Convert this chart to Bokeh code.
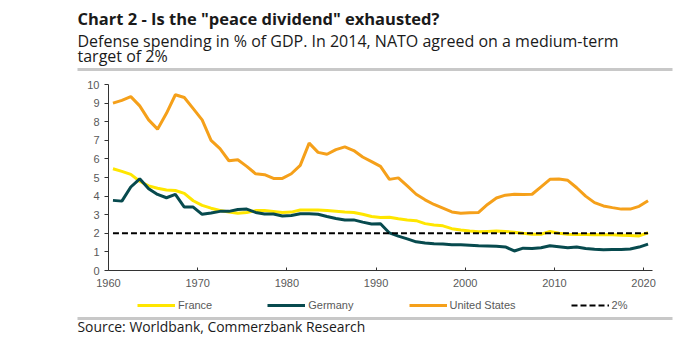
from bokeh.plotting import figure
from bokeh.models import Range1d, Legend, LegendItem, FixedTicker, Label, BoxAnnotation
from bokeh.embed import file_html
from bokeh.resources import INLINE

# ---------------- data ----------------
years = list(range(1960, 2021))

france = [5.47, 5.33, 5.17, 4.80, 4.55, 4.42, 4.33, 4.30, 4.15, 3.75,
          3.50, 3.35, 3.23, 3.14, 3.08, 3.12, 3.22, 3.22, 3.17, 3.12,
          3.14, 3.25, 3.25, 3.25, 3.22, 3.18, 3.14, 3.12, 3.02, 2.90,
          2.85, 2.86, 2.78, 2.72, 2.68, 2.52, 2.45, 2.40, 2.25, 2.18,
          2.12, 2.08, 2.10, 2.12, 2.10, 2.06, 2.00, 1.95, 1.95, 2.10,
          2.00, 1.95, 1.94, 1.94, 1.92, 1.92, 1.92, 1.90, 1.88, 1.86,
          2.03]

germany = [3.77, 3.73, 4.49, 4.93, 4.40, 4.09, 3.91, 4.09, 3.41, 3.41,
           3.02, 3.09, 3.18, 3.18, 3.28, 3.30, 3.12, 3.04, 3.04, 2.93,
           2.96, 3.05, 3.05, 3.02, 2.90, 2.80, 2.72, 2.72, 2.60, 2.50,
           2.51, 2.02, 1.85, 1.70, 1.54, 1.48, 1.44, 1.42, 1.39, 1.38,
           1.36, 1.33, 1.32, 1.30, 1.27, 1.05, 1.20, 1.18, 1.22, 1.33,
           1.28, 1.22, 1.26, 1.18, 1.14, 1.11, 1.13, 1.13, 1.16, 1.26,
           1.42]

united_states = [9.00, 9.15, 9.35, 8.85, 8.10, 7.60, 8.45, 9.45, 9.30, 8.70,
                 8.10, 7.00, 6.55, 5.90, 5.95, 5.60, 5.20, 5.15, 4.95, 4.95,
                 5.20, 5.65, 6.85, 6.35, 6.25, 6.50, 6.65, 6.45, 6.10, 5.85,
                 5.60, 4.90, 4.98, 4.55, 4.10, 3.80, 3.55, 3.35, 3.15, 3.08,
                 3.10, 3.12, 3.55, 3.90, 4.05, 4.10, 4.08, 4.10, 4.50, 4.90,
                 4.92, 4.85, 4.45, 4.00, 3.65, 3.47, 3.38, 3.30, 3.30, 3.45,
                 3.75]

target_years = [1960, 2020]
target_values = [2.0, 2.0]

series_names = ["France", "Germany", "United States", "2%"]
x_ticks = [1960, 1970, 1980, 1990, 2000, 2010, 2020]
y_ticks = [0, 1, 2, 3, 4, 5, 6, 7, 8, 9, 10]
x_axis_bounds = (1960, 2021)
y_axis_bounds = (0, 10)

title_text = 'Chart 2 - Is the "peace dividend" exhausted?'
subtitle_1 = "Defense spending in % of GDP. In 2014, NATO agreed on a medium-term"
subtitle_2 = "target of 2%"
source_text = "Source: Worldbank, Commerzbank Research"

# ---------------- styling / layout ----------------
C_FR = "#FFE600"
C_DE = "#074A4E"
C_US = "#F5A01A"
RULE = "#C8C8C8"
TXT = "#1A1A1A"
GREY = "#595959"
W, H = 689, 350

# pixel box of the axes area inside the canvas
AX_L, AX_R, AX_T, AX_B = 108, 652, 84, 270
sx = (AX_R - AX_L) / (x_axis_bounds[1] - x_axis_bounds[0])
sy = (AX_B - AX_T) / (y_axis_bounds[1] - y_axis_bounds[0])
x_range = Range1d(x_axis_bounds[0] - AX_L / sx, x_axis_bounds[1] + (W - AX_R) / sx)
y_range = Range1d(y_axis_bounds[0] - (H - AX_B) / sy, y_axis_bounds[1] + AX_T / sy)

# mid-year positions (points sit between the year ticks)
x_mid = [y + 0.5 for y in years]
t_mid = [y + 0.5 for y in target_years]

p = figure(width=W, height=H, x_range=x_range, y_range=y_range,
           min_border=0, output_backend="svg", toolbar_location=None)
p.grid.visible = False
p.outline_line_color = None

r_fr = p.line(x_mid, france, line_color=C_FR, line_width=3)
r_de = p.line(x_mid, germany, line_color=C_DE, line_width=3)
r_us = p.line(x_mid, united_states, line_color=C_US, line_width=3)
r_t = p.line(t_mid, target_values, line_color="black", line_width=2, line_dash="6 3")

xa, ya = p.xaxis[0], p.yaxis[0]
xa.ticker = FixedTicker(ticks=x_ticks)
ya.ticker = FixedTicker(ticks=y_ticks)
xa.fixed_location = y_axis_bounds[0]
ya.fixed_location = x_axis_bounds[0]
xa.bounds = x_axis_bounds
ya.bounds = y_axis_bounds
for ax in (xa, ya):
    ax.axis_line_color = "#333333"
    ax.axis_line_width = 1
    ax.major_tick_line_color = "#333333"
    ax.minor_tick_line_color = None
    ax.major_label_text_font = "Liberation Sans"
    ax.major_label_text_font_size = "11px"
    ax.major_label_text_color = GREY
xa.major_tick_in = 3
xa.major_tick_out = 0
xa.major_label_standoff = 8
ya.major_tick_in = 0
ya.major_tick_out = 4
ya.major_label_standoff = 5

legend = Legend(items=[LegendItem(label=n, renderers=[r]) for n, r in
                       zip(series_names, [r_fr, r_de, r_us, r_t])],
                orientation="horizontal", location=(137, 38),
                spacing=55, glyph_width=38, glyph_height=14, label_standoff=3,
                label_height=14, padding=0, margin=0,
                label_text_font="Liberation Sans", label_text_font_size="11px",
                label_text_color=GREY, border_line_color=None,
                background_fill_alpha=0)
p.add_layout(legend)

# ---------------- header / footer texts and rules ----------------
p.add_layout(Label(x=77, y=18, x_units="canvas", y_units="canvas", text=title_text,
                   text_font="Open Sans", text_font_style="bold", text_font_size="16.5px",
                   text_color=TXT, text_baseline="alphabetic"))
p.add_layout(Label(x=77, y=40, x_units="canvas", y_units="canvas", text=subtitle_1,
                   text_font="Open Sans", text_font_size="16px",
                   text_color=TXT, text_baseline="alphabetic"))
p.add_layout(Label(x=77, y=55, x_units="canvas", y_units="canvas", text=subtitle_2,
                   text_font="Open Sans", text_font_size="16px",
                   text_color=TXT, text_baseline="alphabetic"))
p.add_layout(Label(x=77, y=326, x_units="canvas", y_units="canvas", text=source_text,
                   text_font="Open Sans", text_font_size="13.9px",
                   text_color=TXT, text_baseline="alphabetic"))
for top in (67.5, 316.5):
    p.add_layout(BoxAnnotation(left=77, right=672, top=top, bottom=top + 3,
                               left_units="canvas", right_units="canvas",
                               top_units="canvas", bottom_units="canvas",
                               fill_color=RULE, fill_alpha=1, line_color=None))

open("out.html", "w").write(file_html(p, INLINE))
